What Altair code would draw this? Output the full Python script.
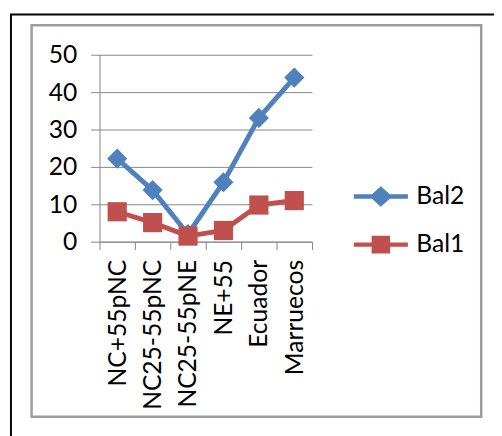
import altair as alt
import pandas as pd

categories = ["NC+55pNC", "NC25-55pNC", "NC25-55pNE", "NE+55", "Ecuador", "Marruecos"]
bal2 = [22.2, 13.8, 2.0, 15.9, 33.1, 43.9]
bal1 = [8.0, 5.1, 1.5, 3.0, 9.8, 11.0]
series_names = ["Bal2", "Bal1"]
colors = ["#4F81BD", "#C0504D"]
y_ticks = [0, 10, 20, 30, 40, 50]

rows = []
for name, vals in zip(series_names, [bal2, bal1]):
    for c, v in zip(categories, vals):
        rows.append({"cat": c, "series": name, "value": v})
df = pd.DataFrame(rows)

FONT = "Lato"
GRAY = "#868686"

x_enc = alt.X(
    "cat:N",
    sort=categories,
    scale=alt.Scale(type="band", paddingInner=0, paddingOuter=0),
    axis=alt.Axis(
        title=None, labelAngle=270, tickBand="extent", grid=False,
        domainColor=GRAY, tickColor=GRAY, tickSize=8, labelPadding=10,
        labelFont=FONT, labelFontSize=25, labelColor="black",
    ),
)
y_enc = alt.Y(
    "value:Q",
    scale=alt.Scale(domain=[0, 50], nice=False),
    axis=alt.Axis(
        title=None, values=y_ticks, grid=True, gridColor=GRAY,
        domainColor=GRAY, tickColor=GRAY, tickSize=9, labelPadding=14,
        labelFont=FONT, labelFontSize=25, labelColor="black",
    ),
)

base = alt.Chart(df)

deco = alt.Data(values=[{"k": 1}])
frame = alt.Chart(deco).mark_rect(fill=None, stroke="#9C9C9C", strokeWidth=2.5).encode(
    x=alt.value(-69), x2=alt.value(388), y=alt.value(-30), y2=alt.value(368)
)
black_v = alt.Chart(deco).mark_rule(color="black", strokeWidth=2).encode(
    x=alt.value(-90), y=alt.value(-41), y2=alt.value(400)
)
black_h = alt.Chart(deco).mark_rule(color="black", strokeWidth=2).encode(
    x=alt.value(-91), x2=alt.value(410), y=alt.value(-41)
)

layers = [frame, black_v, black_h]
shapes = {"Bal2": "diamond", "Bal1": "square"}
sizes = {"Bal2": 420, "Bal1": 380}
for name, col in zip(series_names, colors):
    sub = base.transform_filter(alt.datum.series == name)
    layers.append(sub.mark_line(color=col, strokeWidth=5, strokeCap="round").encode(x=x_enc, y=y_enc))
    layers.append(sub.mark_point(filled=True, color=col, opacity=1, shape=shapes[name], size=sizes[name]).encode(x=x_enc, y=y_enc))

path_bal2 = "M-1,0L1,0M0,-0.27L0.3,0L0,0.27L-0.3,0Z"
path_bal1 = "M-1,0L1,0M-0.26,-0.25L0.26,-0.25L0.26,0.25L-0.26,0.25Z"

legend = alt.Legend(
    title=None, orient="none", legendX=256, legendY=114,
    labelFont=FONT, labelFontSize=25, labelColor="black",
    symbolSize=3025, symbolStrokeWidth=4.5, symbolOpacity=1,
    labelOffset=6, rowPadding=2,
)
legend_layer = base.mark_point(filled=True, opacity=0).encode(
    x=x_enc, y=y_enc,
    fill=alt.Fill("series:N", scale=alt.Scale(domain=series_names, range=colors), legend=legend),
    stroke=alt.Stroke("series:N", scale=alt.Scale(domain=series_names, range=colors), legend=legend),
    shape=alt.Shape("series:N", scale=alt.Scale(domain=series_names, range=[path_bal2, path_bal1]), legend=legend),
)
layers.append(legend_layer)

chart = alt.layer(*layers).properties(
    width=216, height=190,
    padding={"left": 93, "top": 44, "right": 185, "bottom": 194},
    autosize=alt.AutoSizeParams(type="none"),
    background="white",
).configure_view(stroke=None)

chart.save("out.html", embed_options={"renderer": "svg", "actions": False})
